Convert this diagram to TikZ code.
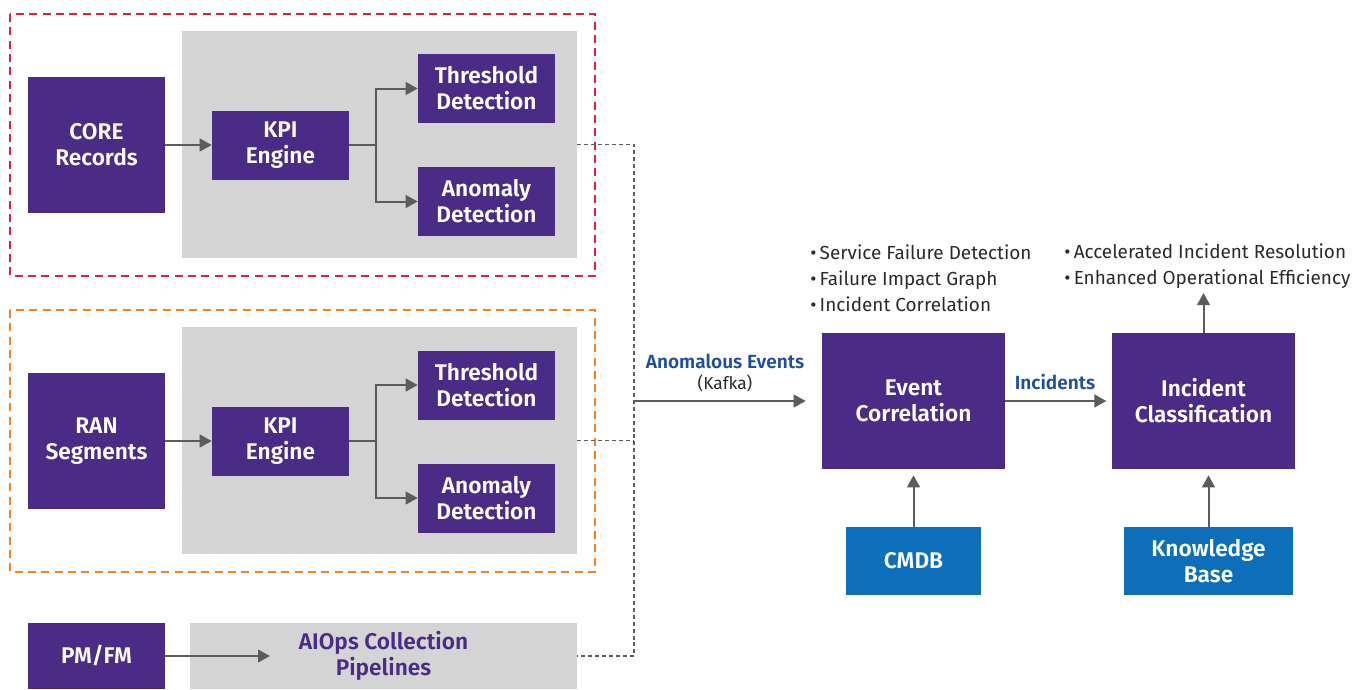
\documentclass[tikz,border=0pt]{standalone}
\usepackage{fontspec}
\IfFontExistsTF{Fira Sans SemiBold}{\setmainfont{Fira Sans}[BoldFont={Fira Sans SemiBold}]}{\setmainfont{Fira Sans}}
\usetikzlibrary{arrows.meta}
\definecolor{purp}{HTML}{4A2C86}
\definecolor{cblue}{HTML}{0D6FBA}
\definecolor{gfill}{HTML}{D3D4D3}
\definecolor{arr}{HTML}{5C5C5C}
\definecolor{lblue}{HTML}{1E4E9E}
\definecolor{dred}{HTML}{E21F3D}
\definecolor{dorange}{HTML}{F58220}
\definecolor{btext}{HTML}{2A2A2A}
\newcommand{\bul}{•\hspace{2.5pt}}
\begin{document}
\begin{tikzpicture}[x=0.75pt,y=-0.75pt,
  sz/.style 2 args={minimum width=#1*0.75pt, minimum height=#2*0.75pt},
  pbox/.style={fill=purp, text=white, font=\bfseries\fontsize{17}{19.5}\selectfont, align=center, inner sep=0pt},
  bbox/.style={fill=cblue, text=white, font=\bfseries\fontsize{17}{19.5}\selectfont, align=center, inner sep=0pt},
  gbox/.style={fill=gfill, inner sep=0pt},
  flow/.style={draw=arr, line width=1.5pt, -{Triangle[length=9pt,width=9.5pt]}},
  bus/.style={draw=arr, line width=1.1pt, dash pattern=on 3pt off 2.2pt},
  reddash/.style={draw=dred, line width=1.4pt, dash pattern=on 6pt off 4pt},
  orangedash/.style={draw=dorange, line width=1.4pt, dash pattern=on 6pt off 4pt},
  bullet/.style={anchor=base west, inner sep=0pt, text=btext, font=\fontsize{14.2}{19.5}\selectfont},
  flabel/.style={text=lblue, font=\bfseries\fontsize{14.3}{17}\selectfont, inner sep=0pt}
]
\useasboundingbox (0,0) rectangle (1358,689);

% ---- group 1 (CORE) ----
\draw[reddash] (10,14) rectangle (595,276);
\node[gbox, sz={395}{227}] (g1) at (379.5,144.5) {};
\node[pbox, sz={137}{136}] (core) at (96.5,145) {CORE\\Records};
\node[pbox, sz={137}{69}] (kpi1) at (280.5,145) {KPI\\Engine};
\node[pbox, sz={137}{69}] (thr1) at (486.5,88.5) {Threshold\\Detection};
\node[pbox, sz={137}{69}] (ano1) at (486.5,201.5) {Anomaly\\Detection};
\draw[flow] (core.east) -- (kpi1.west);
\draw[flow] (kpi1.east) -- ++(27,0) |- (thr1.west);
\draw[flow] (kpi1.east) -- ++(27,0) |- (ano1.west);

% ---- group 2 (RAN) ----
\draw[orangedash] (10,310) rectangle (595,572);
\node[gbox, sz={395}{227}] (g2) at (379.5,440.5) {};
\node[pbox, sz={137}{136}] (ran) at (96.5,441) {RAN\\Segments};
\node[pbox, sz={137}{69}] (kpi2) at (280.5,441) {KPI\\Engine};
\node[pbox, sz={137}{69}] (thr2) at (486.5,385) {Threshold\\Detection};
\node[pbox, sz={137}{69}] (ano2) at (486.5,498) {Anomaly\\Detection};
\draw[flow] (ran.east) -- (kpi2.west);
\draw[flow] (kpi2.east) -- ++(27,0) |- (thr2.west);
\draw[flow] (kpi2.east) -- ++(27,0) |- (ano2.west);

% ---- PM/FM ----
\node[pbox, sz={137}{66}] (pmfm) at (96.5,656) {PM/FM};
\node[gbox, sz={387}{66}, text=purp, font=\bfseries\fontsize{17}{19.5}\selectfont, align=center] (aiops) at (383.5,656) {AIOps Collection\\Pipelines};
\coordinate (pmend) at (270,656);
\draw[flow] (pmfm.east) -- (pmend);

% ---- bus ----
\coordinate (bt) at (634,144.5);
\coordinate (bm) at (634,440.5);
\coordinate (bo) at (634,401);
\coordinate (bb) at (634,656);
\draw[bus] (g1.east) -- (bt) -- (bb) -- (aiops.east);
\draw[bus] (g2.east) -- (bm);

% ---- right side ----
\node[pbox, sz={183}{136}] (evc) at (913.5,401) {Event\\Correlation};
\node[pbox, sz={183}{136}] (ic) at (1203.5,401) {Incident\\Classification};
\node[bbox, sz={135}{68}] (cmdb) at (913.5,561) {CMDB};
\node[bbox, sz={169}{68}] (kb) at (1208.5,561) {Knowledge\\Base};

\draw[flow, shorten >=12pt] (bo) -- (bo -| evc.west);
\node[flabel] (lae) at (725,361) {Anomalous Events};
\node[inner sep=0pt, text=btext, font=\fontsize{13}{15}\selectfont] (lkaf) at (725,383) {(Kafka)};

\draw[flow, shorten >=4pt] (evc.east) -- (ic.west);
\node[flabel] (linc) at (1055,382) {Incidents};

\draw[flow, shorten >=4.5pt] (cmdb.north) -- (cmdb.north |- evc.south);
\draw[flow, shorten >=4.5pt] (kb.north) -- (kb.north |- ic.south);

\node[bullet] (s1) at (810,259) {\bul Service Failure Detection};
\node[bullet] (s2) at (810,285) {\bul Failure Impact Graph};
\node[bullet] (s3) at (810,311) {\bul Incident Correlation};
\node[bullet] (o1) at (1064,258) {\bul Accelerated Incident Resolution};
\node[bullet] (o2) at (1064,284) {\bul Enhanced Operational Efficiency};
\coordinate (otip) at (1203.5,293);
\draw[flow] (ic.north) -- (otip);
\end{tikzpicture}
\end{document}
